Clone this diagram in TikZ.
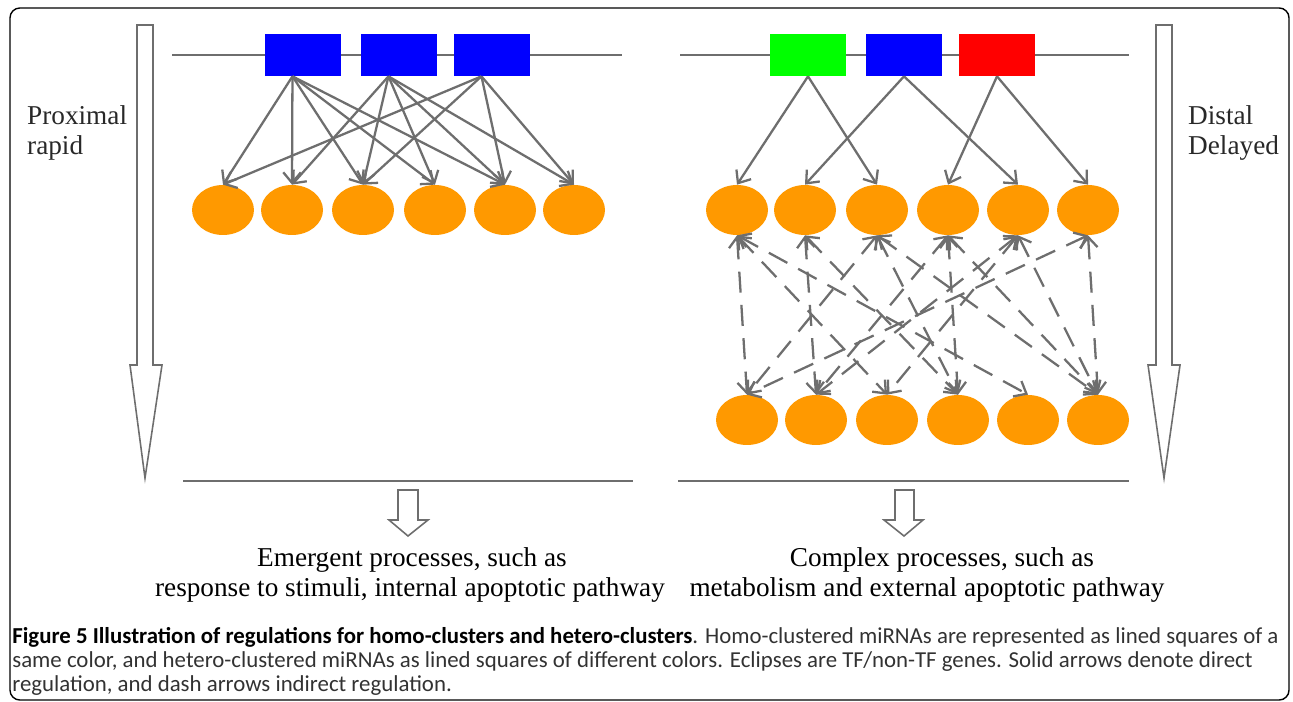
\documentclass[tikz,border=0pt]{standalone}
\usepackage{fontspec}
\setmainfont{Liberation Serif}
\newfontfamily\capfont{Carlito}
\usetikzlibrary{shapes.geometric}
\usetikzlibrary{arrows.meta}
\definecolor{linegray}{RGB}{110,110,110}
\definecolor{geneorange}{RGB}{255,153,0}
\definecolor{mirblue}{RGB}{0,0,255}
\definecolor{mirgreen}{RGB}{0,255,0}
\definecolor{mirred}{RGB}{255,0,0}
\definecolor{textgray}{RGB}{40,40,40}
\definecolor{capgray}{RGB}{50,50,50}

\begin{document}
\begin{tikzpicture}[x=0.02cm,y=-0.02cm,
    mirna/.style={rectangle,minimum width=1.52cm,minimum height=0.84cm,inner sep=0pt},
    gene/.style={ellipse,fill=geneorange,minimum width=1.24cm,minimum height=1cm,inner sep=0pt},
    direct/.style={draw=linegray,line width=1.3pt,-{Straight Barb[length=6pt,width=10pt]}},
    indirect/.style={draw=linegray,line width=1.3pt,dash pattern=on 12pt off 7pt,
        {Straight Barb[length=6pt,width=10pt]}-{Straight Barb[length=6pt,width=10pt]}},
    hollow/.style={draw=linegray,line width=0.9pt,line join=miter},
    proc/.style={font=\fontsize{15.5}{17.5}\selectfont}]
    \useasboundingbox (0,0) rectangle (1293,702);

    % frame
    \draw[line width=0.8pt,rounded corners=5.6pt] (10,8) rectangle (1289,700);

    % big time arrows
    \draw[hollow] (137,25) -- (153,25) -- (153,365) -- (162,365) -- (145,478)
        -- (130,365) -- (137,365) -- cycle;
    \draw[hollow] (1156,25) -- (1172,25) -- (1172,365) -- (1180,365) -- (1164,478)
        -- (1148,365) -- (1156,365) -- cycle;
    \node[proc,textgray,align=left,anchor=west] (prox) at (21,133) {Proximal\\rapid};
    \node[proc,textgray,align=left,anchor=west] (dist) at (1182,133) {Distal\\Delayed};

    % clusters
    \draw[linegray,line width=1.6pt] (172,55) -- (622,55);
    \draw[linegray,line width=1.6pt] (680,55) -- (1129,55);

    \node[mirna,fill=mirblue] (hom1) at (303,55) {};
    \node[mirna,fill=mirblue] (hom2) at (399,55) {};
    \node[mirna,fill=mirblue] (hom3) at (492,55) {};

    \node[mirna,fill=mirgreen] (het1) at (808,55) {};
    \node[mirna,fill=mirblue]  (het2) at (904,55) {};
    \node[mirna,fill=mirred]   (het3) at (997,55) {};

    % genes
    \foreach \x [count=\i] in {223,292,363,435,505,574} {
        \node[gene] (la\i) at (\x,210) {};
    }
    \foreach \x [count=\i] in {737,805,877,948,1018,1088} {
        \node[gene] (ra\i) at (\x,210) {};
    }
    \foreach \x [count=\i] in {747,816,887,958,1028,1098} {
        \node[gene] (rb\i) at (\x,420) {};
    }

    % direct regulation
    \foreach \s/\t in {1/1,1/2,1/3,1/4,1/5,2/2,2/3,2/4,2/5,2/6,3/1,3/3,3/5,3/6} {
        \draw[direct] ([xshift=-6pt]hom\s.south) -- (la\t.north);
    }
    \foreach \s/\t in {1/1,1/3,2/2,2/5,3/4,3/6} {
        \draw[direct] (het\s.south) -- (ra\t.north);
    }

    % indirect regulation
    \foreach \s/\t in {1/1,1/3,1/5,2/2,2/4,3/1,3/4,3/6,4/2,4/4,4/6,5/2,5/3,5/6,6/1,6/6} {
        \draw[indirect] (ra\s.south) -- (rb\t.north);
    }

    % outcomes
    \draw[linegray,line width=1.1pt] (183,481) -- (633,481);
    \draw[linegray,line width=1.1pt] (678,481) -- (1129,481);
    \draw[hollow] (398,490) -- (418,490) -- (418,520) -- (428,520) -- (408,536)
        -- (389,520) -- (398,520) -- cycle;
    \draw[hollow] (895,490) -- (914,490) -- (914,520) -- (923,520) -- (904,536)
        -- (884,520) -- (895,520) -- cycle;

    \node[proc] (emerg1) at (412,560) {Emergent processes, such as};
    \node[proc] (emerg2) at (410,590) {response to stimuli, internal apoptotic pathway};
    \node[proc] (compl1) at (942,560) {Complex processes, such as};
    \node[proc] (compl2) at (927,590) {metabolism and external apoptotic pathway};

    % caption
    \node[anchor=north west,align=left,inner sep=0pt,capgray,
        font=\capfont\fontsize{13}{13.6}\selectfont] (caption) at (12,627)
        {\textbf{\color{black}Figure 5 Illustration of regulations for homo-clusters and hetero-clusters}. Homo-clustered miRNAs are represented as lined squares of a\\
        same color, and hetero-clustered miRNAs as lined squares of different colors. Eclipses are TF/non-TF genes. Solid arrows denote direct\\
        regulation, and dash arrows indirect regulation.};
\end{tikzpicture}
\end{document}
